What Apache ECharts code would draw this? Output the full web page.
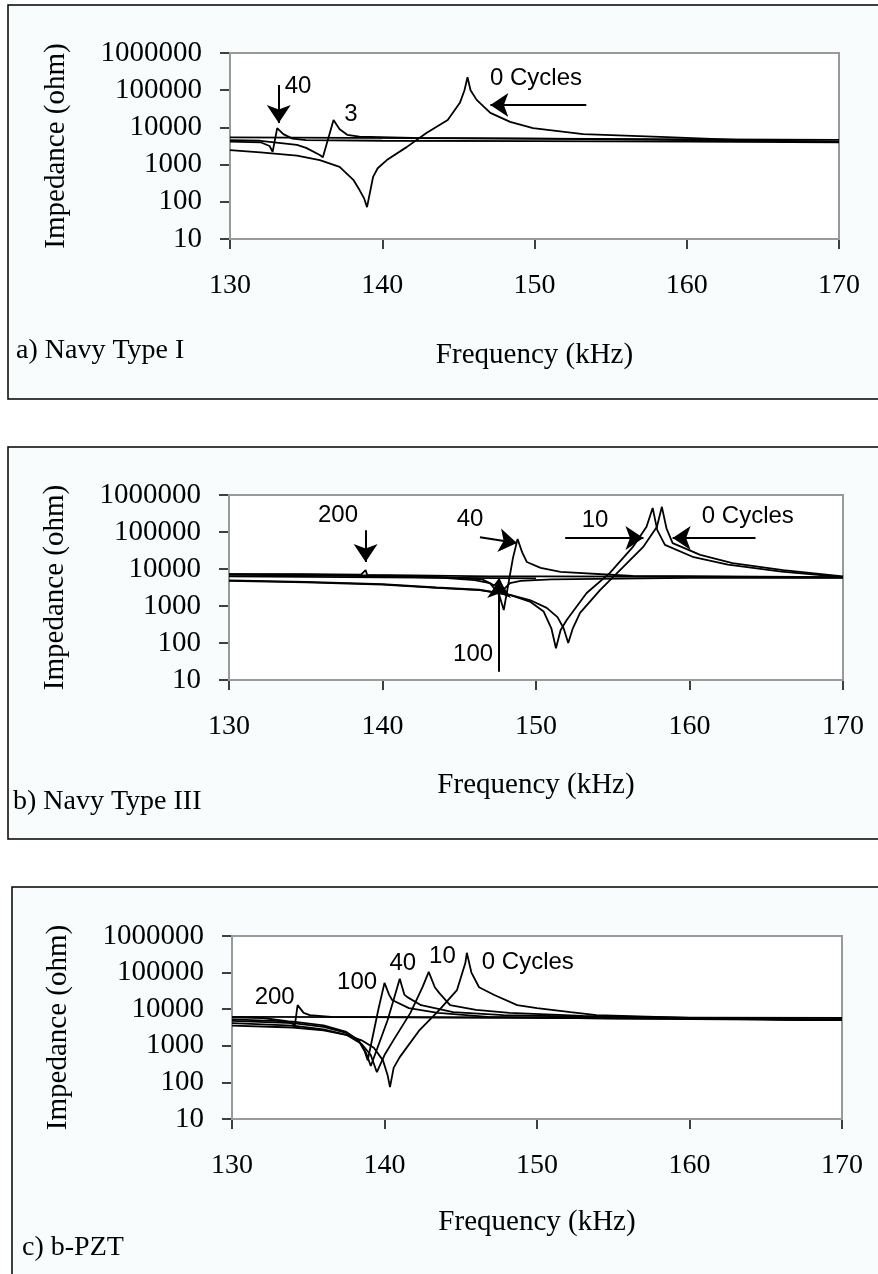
<!DOCTYPE html>
<html><head><meta charset="utf-8">
<script src="https://cdn.jsdelivr.net/npm/echarts@6.0.0/dist/echarts.min.js"></script>
<style>html,body{margin:0;padding:0;background:#fff}#c{width:878px;height:1274px}</style>
</head><body><div id="c"></div>
<script>
// ---------- labels ----------
const panelLabels = ['a) Navy Type I', 'b) Navy Type III', 'c) b-PZT'];
const xTitle = 'Frequency (kHz)';
const yTitle = 'Impedance (ohm)';
const xTickValues = [130, 140, 150, 160, 170];
const yTickValues = [10, 100, 1000, 10000, 100000, 1000000];

// ---------- panel a: Navy Type I  [frequency kHz, impedance ohm] ----------
const a_cycles0 = [[130,2450],[132,2140],[134.4,1740],[135.9,1320],[137.2,870],[138.1,390],[138.5,210],[138.8,126],[139.0,72],[139.4,470],[139.7,800],[140.3,1320],[141.6,2950],[142.9,7080],[144.3,15850],[145.1,45700],[145.4,100000],[145.6,224000],[145.8,100000],[146.2,55000],[147.1,24500],[148.4,14100],[149.9,9550],[153.2,6600],[158.7,5500],[163.7,4570],[170,4070]];
const a_cycles3 = [[130,4570],[132,4370],[134.4,3390],[135.0,2820],[135.9,1820],[136.1,1580],[136.8,15850],[137.2,8900],[137.7,6310],[138.5,5620],[142,5250],[150,5000],[160,4570],[170,4170]];
const a_cycles40 = [[130,4170],[132,3980],[132.6,3160],[132.8,2190],[133.1,9550],[133.5,6600],[134.1,5000],[135,4570],[140,4370],[150,4270],[160,4170],[170,3980]];
const a_flat = [[130,5400],[170,4600]];
const a_texts = [[134.47,123000,'40'],[137.95,22900,'3'],[150.1,214000,'0 Cycles']];
const a_arrows = [[[133.2,138000],[133.2,13200]],[[153.4,39800],[147.1,39800]]];

// ---------- panel b: Navy Type III ----------
const b_cycles0 = [[130,4790],[135,4370],[140,3800],[143.55,3090],[146.35,2690],[148.3,2000],[149.6,1450],[150.7,890],[151.4,500],[151.8,250],[152.1,100],[152.4,250],[152.87,650],[154.17,2690],[155.67,11200],[156.97,38900],[157.88,138000],[158.2,479000],[158.5,126000],[158.9,50100],[160.7,24000],[162.8,14500],[166.1,9330],[170,6310]];
const b_cycles10 = [[130,4900],[135,4470],[140,3890],[143.5,3160],[146.3,2750],[148.3,2000],[149.6,1320],[150.5,710],[151.0,250],[151.3,72],[151.6,220],[152.0,420],[153.3,2240],[154.8,7760],[156.3,38900],[157.2,138000],[157.6,447000],[157.9,112000],[158.4,44700],[160.2,21400],[162.5,13200],[166,8510],[170,6030]];
const b_cycles40 = [[130,6900],[135,6760],[140,6310],[144,5750],[146,5010],[147.0,4170],[147.6,2000],[147.9,780],[148.2,3980],[148.5,20000],[148.8,64600],[149.1,28200],[149.4,15500],[150.3,10700],[151.6,8320],[156.3,6460],[170,6030]];
const b_cycles100 = [[130,7240],[135,7080],[140,6610],[144,6030],[146.5,5250],[147.3,3550],[147.6,5250],[147.9,2820],[148.3,4170],[149,4790],[151,5250],[160,5750],[170,5750]];
const b_cycles200 = [[130,7240],[135,7240],[138.6,7080],[138.9,9330],[139.0,6920],[142,6760],[147,6310],[150,6310],[160,6170],[170,5890]];
const b_flat = [[130,6300],[150,5600]];
const b_texts = [[137.1,288000,'200'],[145.7,224000,'40'],[145.9,47.9,'100'],[153.85,200000,'10'],[163.8,269000,'0 Cycles']];
const b_arrows = [[[138.9,112000],[138.9,15500]],[[146.35,72400],[148.76,50100]],[[147.6,16.6],[147.6,5010]],[[151.9,69200],[157.0,69200]],[[164.3,69200],[158.9,69200]]];

// ---------- panel c: b-PZT ----------
const c_cycles0 = [[130,3550],[134,3160],[136,2630],[137.5,2000],[138.5,1410],[139.3,890],[139.9,400],[140.2,160],[140.36,74],[140.6,250],[141.0,490],[142.3,2690],[143.6,9550],[144.75,33100],[145.3,182000],[145.4,347000],[145.7,100000],[146.2,39800],[147.2,24500],[148.7,12900],[150.0,10700],[152.2,8320],[153.9,6920],[160,5750],[170,5010]];
const c_cycles10 = [[130,4170],[134,3550],[136,2820],[137.5,2000],[138.5,1120],[139.1,560],[139.5,190],[140.0,560],[140.6,1450],[141.7,7940],[142.5,40700],[142.9,105000],[143.3,39800],[143.6,27500],[144.3,12900],[146.0,9550],[148.2,7940],[153,6610],[160,5750],[170,5010]];
const c_cycles40 = [[130,4790],[134,4170],[136,3310],[137.5,2240],[138.3,1410],[138.8,630],[139.1,280],[139.5,790],[140.2,5010],[140.7,25100],[141.0,67600],[141.3,25100],[141.5,21400],[142.4,12900],[144.5,8320],[147.8,6920],[155,6030],[170,5010]];
const c_cycles100 = [[130,5250],[134,4570],[136,3630],[137.5,2400],[138.3,1410],[138.7,710],[138.9,400],[139.2,1580],[139.6,10000],[140.0,52500],[140.3,25100],[140.5,17800],[141.6,10700],[143.5,7940],[146.8,6170],[155,5500],[170,5010]];
const c_cycles200 = [[130,6030],[132,5750],[133.5,4790],[134.0,3980],[134.1,3090],[134.3,12900],[134.7,7940],[135.1,6920],[136.5,6170],[145,5890],[160,5500],[170,5010]];
const c_flat = [[130,6200],[170,5750]];
const c_texts = [[132.8,21400,'200'],[138.2,55000,'100'],[141.2,182000,'40'],[143.8,269000,'10'],[149.4,195000,'0 Cycles']];
const c_arrows = [];

// ---------- layout ----------
const SERIF = "'Liberation Serif','Times New Roman',serif";
const SANS = "'Liberation Sans',Arial,sans-serif";
const grids = [
  {left:230, top:53, width:609, height:186},
  {left:229, top:495, width:614, height:185},
  {left:232, top:936, width:610, height:183}
];
const boxes = [
  {x:8, y:5, h:394},
  {x:8, y:447, h:392},
  {x:12, y:887, h:420}
];
const nameGaps = [102, 91, 89];
const labelPos = [[16,351],[13,802],[22,1248]];

const panels = [
  {curves:[a_cycles0,a_cycles3,a_cycles40,a_flat], texts:a_texts, arrows:a_arrows},
  {curves:[b_cycles0,b_cycles10,b_cycles40,b_cycles100,b_cycles200,b_flat], texts:b_texts, arrows:b_arrows},
  {curves:[c_cycles0,c_cycles10,c_cycles40,c_cycles100,c_cycles200,c_flat], texts:c_texts, arrows:c_arrows}
];

const option = {
  animation:false,
  backgroundColor:'#ffffff',
  grid: grids.map(g => Object.assign({show:true, backgroundColor:'#ffffff', borderColor:'#9a9a9a', borderWidth:2, z:1}, g)),
  xAxis: grids.map((g,i) => ({
    type:'value', gridIndex:i, min:130, max:170, interval:10,
    name:xTitle, nameLocation:'middle', nameGap:nameGaps[i],
    nameTextStyle:{fontFamily:SERIF, fontSize:29, color:'#000'},
    axisLine:{lineStyle:{color:'#000', width:1.5}},
    axisTick:{inside:false, length:10, lineStyle:{color:'#000', width:1.5}},
    axisLabel:{fontFamily:SERIF, fontSize:28, color:'#000', margin:33},
    splitLine:{show:false}
  })),
  yAxis: grids.map((g,i) => ({
    type:'log', logBase:10, gridIndex:i, min:10, max:1000000,
    name:yTitle, nameLocation:'middle', nameGap:159,
    nameTextStyle:{fontFamily:SERIF, fontSize:29, color:'#000'},
    axisLine:{lineStyle:{color:'#000', width:1.5}},
    axisTick:{inside:false, length:10, lineStyle:{color:'#000', width:1.5}},
    axisLabel:{fontFamily:SERIF, fontSize:29, color:'#000', margin:28, formatter:v => String(Math.round(v))},
    minorTick:{show:false},
    splitLine:{show:false}
  })),
  graphic: {elements: boxes.map((b,i) => ({
      type:'rect', z:-10, silent:true,
      shape:{x:b.x, y:b.y, width:900, height:b.h},
      style:{fill:'#f8fcfd', stroke:'#000', lineWidth:1.5}
    })).concat(labelPos.map((p,i) => ({
      type:'text', z:5, silent:true, x:p[0], y:p[1],
      style:{text:panelLabels[i], font:"28px 'Liberation Serif','Times New Roman',serif", fill:'#000', textVerticalAlign:'middle'}
    })))
  },
  series: []
};

panels.forEach((p,i) => {
  p.curves.forEach(d => option.series.push({
    type:'line', xAxisIndex:i, yAxisIndex:i, data:d, symbol:'none', silent:true,
    lineStyle:{color:'#000', width:1.8}, z:3
  }));
  option.series.push({
    type:'scatter', xAxisIndex:i, yAxisIndex:i, silent:true, symbolSize:0,
    itemStyle:{opacity:1, color:'#000'},
    data:p.texts, encode:{x:0, y:1},
    label:{show:true, position:'inside', formatter:q => q.value[2], fontFamily:SANS, fontSize:24, color:'#000', opacity:1},
    markLine:{
      silent:true, symbol:['none','arrow'], symbolSize:18, animation:false,
      lineStyle:{color:'#000', width:2, type:'solid', opacity:1}, label:{show:false},
      data:p.arrows.map(a => [{coord:a[0]},{coord:a[1]}])
    },
    z:4
  });
});

const chart = echarts.init(document.getElementById('c'), null, {renderer:'canvas'});
chart.setOption(option);
</script>
</body></html>
